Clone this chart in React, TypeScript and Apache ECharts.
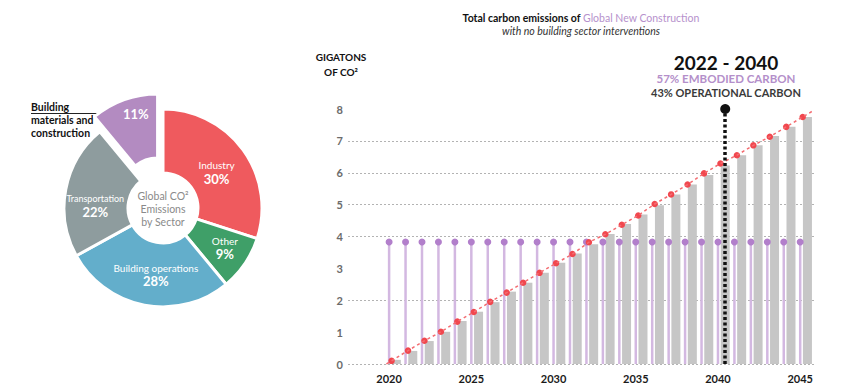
import React, { useEffect, useRef } from "react";
import * as echarts from "echarts";

// ---------- data ----------
const SECTORS = ["Industry", "Other", "Building operations", "Transportation", "Building materials and construction"];
const SECTOR_SHARE = [30, 9, 28, 22, 11];
const SECTOR_COLORS = ["#ef5a5e", "#3f9f68", "#63aecb", "#8e9c9e", "#b38bc1"];

const YEARS = [2020, 2021, 2022, 2023, 2024, 2025, 2026, 2027, 2028, 2029, 2030, 2031, 2032,
  2033, 2034, 2035, 2036, 2037, 2038, 2039, 2040, 2041, 2042, 2043, 2044, 2045];
const TOTAL_EMISSIONS = [0.13, 0.41, 0.72, 1.01, 1.35, 1.64, 1.94, 2.27, 2.55, 2.86, 3.18, 3.47, 3.76,
  4.08, 4.39, 4.69, 4.98, 5.32, 5.63, 5.93, 6.23, 6.55, 6.86, 7.15, 7.44, 7.75];
const TREND_POINTS = [0.1, 0.42, 0.73, 1.01, 1.33, 1.63, 1.95, 2.24, 2.55, 2.86, 3.16, 3.45, 3.82,
  4.07, 4.37, 4.66, 5.02, 5.32, 5.63, 5.98, 6.29, 6.55, 6.86, 7.13, 7.44, 7.75];
const OPERATIONAL_STEMS = [3.83, 3.83, 3.83, 3.83, 3.83, 3.83, 3.83, 3.83, 3.83, 3.83, 3.83, 3.83, 3.83,
  3.83, 3.83, 3.83, 3.83, 3.83, 3.83, 3.83, 3.83, 3.83, 3.83, 3.83, 3.83, 3.83];
const X_TICK_LABELS = [2020, 2025, 2030, 2035, 2040, 2045];
const Y_TICKS = [0, 1, 2, 3, 4, 5, 6, 7, 8];
const Y_GRID_LINES = [0, 2, 4, 5, 6, 7];
const HIGHLIGHT_YEAR = 2040;

const FONT = 'Lato, "Open Sans", "Noto Sans", sans-serif';
const PURPLE = "#b48fca";

export default function App() {
  const ref = useRef<HTMLDivElement>(null);

  useEffect(() => {
    document.body.style.margin = "0";
    if (!ref.current) return;
    const chart = echarts.init(ref.current, undefined, { renderer: "svg" });

    const X_MIN = 2017.5;
    const X_MAX = 2045.9;
    const BAR_SHIFT = 0.44;
    const DOT_SHIFT = 0.15;

    const n = YEARS.length;
    const slope0 = TREND_POINTS[1] - TREND_POINTS[0];
    const slopeN = TREND_POINTS[n - 1] - TREND_POINTS[n - 2];
    const leftX = YEARS[0] - TREND_POINTS[0] / slope0;
    const rightX = X_MAX - DOT_SHIFT - 0.05;
    const rightY = TREND_POINTS[n - 1] + slopeN * (rightX - YEARS[n - 1]);
    const trendLine = [[leftX, 0], ...YEARS.map((y, i) => [y, TREND_POINTS[i]]), [rightX, rightY]];

    const labelShift: number[][] = [[-3, 5.5], [4, 0.5], [6, -2], [1, 11], [2, -13]];

    const option: any = {
      animation: false,
      textStyle: { fontFamily: FONT },
      grid: { left: 348, right: 35, top: 109, bottom: 25 },
      xAxis: [
        {
          type: "value", min: X_MIN, max: X_MAX,
          axisLine: { show: false }, axisTick: { show: false }, splitLine: { show: false },
          axisLabel: {
            customValues: X_TICK_LABELS, formatter: (v: number) => String(v),
            color: "#1a1a1a", fontWeight: "bold", fontSize: 11, margin: 9, fontFamily: FONT,
          },
        },
        { type: "value", min: X_MIN - BAR_SHIFT, max: X_MAX - BAR_SHIFT, show: false },
        { type: "value", min: X_MIN - DOT_SHIFT, max: X_MAX - DOT_SHIFT, show: false },
      ],
      yAxis: {
        type: "value", min: 0, max: 8, interval: 1,
        axisLine: { show: false }, axisTick: { show: false },
        axisLabel: { color: "#6b6b6b", fontWeight: "bold", fontSize: 11, margin: 5, fontFamily: FONT },
        splitLine: {
          show: true,
          lineStyle: {
            type: [2, 2], width: 1,
            color: Y_TICKS.map((v) => (Y_GRID_LINES.includes(v) ? "#b3b3b3" : "rgba(0,0,0,0)")),
          },
        },
      },
      series: [
        {
          type: "bar", name: "total", xAxisIndex: 1, barWidth: 9,
          data: YEARS.map((y, i) => [y, TOTAL_EMISSIONS[i]]),
          itemStyle: { color: "#c6c6c6" }, silent: true,
          markLine: {
            silent: true, symbol: ["none", "circle"], symbolSize: 10,
            label: { show: false },
            lineStyle: { color: "#111", width: 3.5, type: [3, 2.5] },
            data: [[{ coord: [HIGHLIGHT_YEAR, 0] }, { coord: [HIGHLIGHT_YEAR, 8] }]],
            itemStyle: { color: "#111" }, z: 10,
          },
        },
        {
          type: "bar", name: "stems", xAxisIndex: 0, barWidth: 2.5,
          data: YEARS.map((y, i) => [y, OPERATIONAL_STEMS[i]]),
          itemStyle: { color: "#d3b8e1" }, silent: true,
        },
        {
          type: "scatter", xAxisIndex: 0, symbolSize: 7,
          data: YEARS.map((y, i) => [y, OPERATIONAL_STEMS[i]]),
          itemStyle: { color: "#b27fcb", opacity: 1 }, silent: true,
        },
        {
          type: "line", xAxisIndex: 2, showSymbol: false, data: trendLine,
          lineStyle: { color: "#f36d72", width: 1.5, type: [3, 3] }, silent: true,
        },
        {
          type: "scatter", xAxisIndex: 2, symbolSize: 6.5,
          data: YEARS.map((y, i) => [y, TREND_POINTS[i]]),
          itemStyle: { color: "#f1474e", opacity: 1 }, silent: true,
        },
        {
          type: "pie", center: [163, 208], radius: [35, 99],
          startAngle: 90, clockwise: true,
          selectedMode: "single", selectedOffset: 16,
          silent: true,
          itemStyle: { borderColor: "#fff", borderWidth: 3 },
          select: { itemStyle: { borderColor: "#fff", borderWidth: 3 } },
          emphasis: { disabled: true },
          data: SECTORS.map((s, i) => ({
            name: s, value: SECTOR_SHARE[i], selected: i === 4,
            itemStyle: { color: SECTOR_COLORS[i] },
          })),
          label: {
            show: true, position: "inside", color: "#fff", overflow: "none",
            formatter: (p: any) =>
              p.dataIndex === 4 ? `{b|${p.value}%}` : `{${p.dataIndex === 3 ? "s" : "n"}|${p.name}}\n{b|${p.value}%}`,
            rich: {
              n: { fontSize: 10, color: "#fff", lineHeight: 13, fontFamily: FONT },
              s: { fontSize: 9, color: "#fff", lineHeight: 12, fontFamily: FONT },
              b: { fontSize: 13, fontWeight: "bold", color: "#fff", lineHeight: 14, fontFamily: FONT },
            },
          },
          labelLine: { show: false },
          labelLayout: (p: any) => ({ dx: labelShift[p.dataIndex][0], dy: labelShift[p.dataIndex][1] }),
        },
      ],
      graphic: [
        {
          type: "text", x: 581, y: 18, silent: true,
          style: {
            text: "{a|Total carbon emissions of }{p|Global New Construction}",
            textAlign: "center", textVerticalAlign: "middle",
            rich: {
              a: { fontSize: 10.5, fontWeight: "bold", fill: "#111", fontFamily: FONT },
              p: { fontSize: 10.5, fill: "#b691cc", fontFamily: FONT },
            },
          },
        },
        {
          type: "text", x: 581, y: 31, silent: true,
          style: {
            text: "with no building sector interventions", textAlign: "center", textVerticalAlign: "middle",
            fontSize: 10.5, fontStyle: "italic", fill: "#333", fontFamily: FONT,
          },
        },
        {
          type: "text", x: 341, y: 64, silent: true,
          style: {
            text: "GIGATONS\nOF CO²", textAlign: "center", textVerticalAlign: "middle",
            fontSize: 10, fontWeight: "bold", fill: "#111", lineHeight: 15, fontFamily: FONT,
          },
        },
        {
          type: "text", x: 726, y: 62, silent: true,
          style: {
            text: "2022 - 2040", textAlign: "center", textVerticalAlign: "middle",
            fontSize: 19, fontWeight: "bold", fill: "#111", fontFamily: FONT,
          },
        },
        {
          type: "text", x: 726, y: 78.5, silent: true,
          style: {
            text: "57% EMBODIED CARBON", textAlign: "center", textVerticalAlign: "middle",
            fontSize: 11.5, fontWeight: "bold", fill: PURPLE, fontFamily: FONT,
          },
        },
        {
          type: "text", x: 726, y: 92.5, silent: true,
          style: {
            text: "43% OPERATIONAL CARBON", textAlign: "center", textVerticalAlign: "middle",
            fontSize: 11, fontWeight: "bold", fill: "#3a3a3a", fontFamily: FONT,
          },
        },
        {
          type: "text", x: 163, y: 209, silent: true,
          style: {
            text: "Global CO²\nEmissions\nby Sector", textAlign: "center", textVerticalAlign: "middle",
            fontSize: 10.5, fill: "#8a8a8a", lineHeight: 13, fontFamily: FONT,
          },
        },
        {
          type: "text", x: 31, y: 100, silent: true,
          style: {
            text: "Building\nmaterials and\nconstruction", textAlign: "left", textVerticalAlign: "top",
            fontSize: 10.5, fontWeight: "bold", fill: "#111", lineHeight: 13, fontFamily: FONT,
          },
        },
        {
          type: "line", silent: true,
          shape: { x1: 31, y1: 113.5, x2: 117, y2: 113.5 },
          style: { stroke: "#222", lineWidth: 1 },
        },
        {
          type: "circle", silent: true,
          shape: { cx: 117, cy: 113.5, r: 2 },
          style: { fill: "#222" },
        },
      ],
    };

    chart.setOption(option);
    return () => chart.dispose();
  }, []);

  return <div ref={ref} style={{ width: 850, height: 389 }} />;
}
